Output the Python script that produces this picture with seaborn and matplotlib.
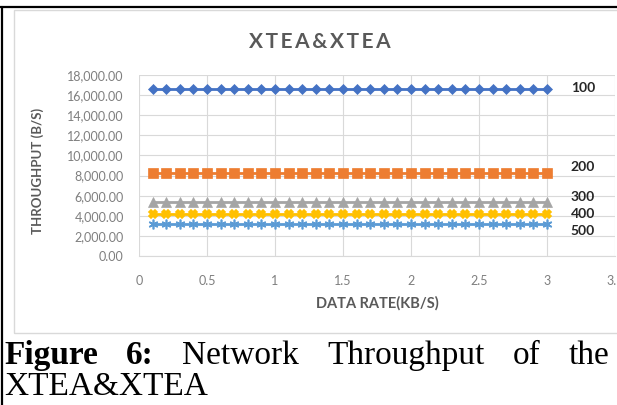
import seaborn as sns
import matplotlib
matplotlib.use("Agg")
import matplotlib.pyplot as plt
import pandas as pd
from matplotlib.lines import Line2D
from matplotlib.patches import Rectangle

# data rate (KB/s)
data_rate = [0.1, 0.2, 0.3, 0.4, 0.5, 0.6, 0.7, 0.8, 0.9, 1.0,
             1.1, 1.2, 1.3, 1.4, 1.5, 1.6, 1.7, 1.8, 1.9, 2.0,
             2.1, 2.2, 2.3, 2.4, 2.5, 2.6, 2.7, 2.8, 2.9, 3.0]

# throughput (B/s) per series
tp_100 = [16600, 16600, 16600, 16600, 16600, 16600, 16600, 16600, 16600, 16600,
          16600, 16600, 16600, 16600, 16600, 16600, 16600, 16600, 16600, 16600,
          16600, 16600, 16600, 16600, 16600, 16600, 16600, 16600, 16600, 16600]
tp_200 = [8300, 8300, 8300, 8300, 8300, 8300, 8300, 8300, 8300, 8300,
          8300, 8300, 8300, 8300, 8300, 8300, 8300, 8300, 8300, 8300,
          8300, 8300, 8300, 8300, 8300, 8300, 8300, 8300, 8300, 8300]
tp_300 = [5350, 5350, 5350, 5350, 5350, 5350, 5350, 5350, 5350, 5350,
          5350, 5350, 5350, 5350, 5350, 5350, 5350, 5350, 5350, 5350,
          5350, 5350, 5350, 5350, 5350, 5350, 5350, 5350, 5350, 5350]
tp_400 = [4200, 4200, 4200, 4200, 4200, 4200, 4200, 4200, 4200, 4200,
          4200, 4200, 4200, 4200, 4200, 4200, 4200, 4200, 4200, 4200,
          4200, 4200, 4200, 4200, 4200, 4200, 4200, 4200, 4200, 4200]
tp_500 = [3200, 3200, 3200, 3200, 3200, 3200, 3200, 3200, 3200, 3200,
          3200, 3200, 3200, 3200, 3200, 3200, 3200, 3200, 3200, 3200,
          3200, 3200, 3200, 3200, 3200, 3200, 3200, 3200, 3200, 3200]

series_names = ["100", "200", "300", "400", "500"]
series_values = [tp_100, tp_200, tp_300, tp_400, tp_500]

rows = []
for name, vals in zip(series_names, series_values):
    for x, y in zip(data_rate, vals):
        rows.append([name, x, y])
df = pd.DataFrame(rows, columns=["series", "rate", "throughput"])

colors = {"100": "#4472C4", "200": "#ED7D31", "300": "#A5A5A5",
          "400": "#FFC000", "500": "#5B9BD5"}
markers = {"100": "D", "200": "s", "300": "^", "400": "X", "500": (6, 2, 0)}
msizes = {"100": 5.5, "200": 7, "300": 7.5, "400": 6, "500": 7}
# label offsets (points) from last point of each series
label_dy = {"100": 1, "200": 4, "300": 4, "400": 0, "500": -5}

sns.set_style("white")
plt.rcParams["font.family"] = ["Lato", "DejaVu Sans"]

fig = plt.figure(figsize=(6.17, 4.05), dpi=100)
ax = fig.add_axes([139 / 617, 1 - 256 / 405, 476 / 617, 181 / 405])

for name in series_names:
    sub = df[df["series"] == name]
    sns.lineplot(data=sub, x="rate", y="throughput", ax=ax, color=colors[name],
                 marker=markers[name], markersize=msizes[name], lw=2,
                 markeredgewidth=1.2 if name in ("400", "500") else 0.5,
                 markeredgecolor=colors[name], legend=False)
    ax.annotate(name, (sub["rate"].iloc[-1], sub["throughput"].iloc[-1]),
                xytext=(17, label_dy[name]), textcoords="offset points",
                ha="left", va="center", fontsize=10, fontweight="bold",
                color="#262626", annotation_clip=False)

ax.set_xlim(0, 3.5)
ax.set_ylim(0, 18000)
ax.set_xticks([0, 0.5, 1, 1.5, 2, 2.5, 3, 3.5])
ax.set_xticklabels(["0", "0.5", "1", "1.5", "2", "2.5", "3", "3.5"])
ax.set_yticks(range(0, 18001, 2000))
ax.set_yticklabels([f"{v:,.2f}" for v in range(0, 18001, 2000)])
ax.grid(True, color="#D9D9D9", lw=0.8)
for s in ["top", "right", "left"]:
    ax.spines[s].set_visible(False)
ax.spines["bottom"].set_color("#D9D9D9")
ax.tick_params(axis="both", length=0, labelsize=9, labelcolor="#7F7F7F")
ax.tick_params(axis="x", pad=14)
ax.tick_params(axis="y", pad=11)

ax.set_xlabel("DATA RATE(KB/S)", fontsize=10.5, color="#595959", fontweight="bold")
ax.xaxis.set_label_coords(0.5, (256 - 303) / 181)
ax.xaxis.label.set_va("center")
ax.set_ylabel("THROUGHPUT (B/S)", fontsize=9.5, color="#595959", fontweight="bold")
ax.yaxis.set_label_coords((38 - 139) / 476, 0.47)
ax.yaxis.label.set_va("center")

fig.text(320 / 617, 1 - 42 / 405, "X T E A & X T E A".replace(" ", "\u2009"),
         ha="center", va="center", fontsize=15, fontweight="bold", color="#595959")

# chart area border and document table borders
fig.add_artist(Rectangle((14 / 617, 1 - 333 / 405), 1.0, 323 / 405,
                         transform=fig.transFigure, fill=False,
                         edgecolor="#D9D9D9", lw=1))
fig.add_artist(Line2D([0, 1], [1 - 7 / 405, 1 - 7 / 405], color="black", lw=1.6))
fig.add_artist(Line2D([2 / 617, 2 / 617], [0, 1 - 7 / 405], color="black", lw=1.6))

# caption, first line justified
cap_font = "Liberation Serif"
cap_size = 24
words = [("Figure", "bold"), ("6:", "bold"), ("Network", "normal"),
         ("Throughput", "normal"), ("of", "normal"), ("the", "normal")]
renderer = fig.canvas.get_renderer()
texts = []
for w, wt in words:
    t = fig.text(0, 1 - 364 / 405, w, fontsize=cap_size, fontweight=wt,
                 family=cap_font, color="black", va="baseline")
    texts.append(t)
widths = [t.get_window_extent(renderer).width for t in texts]
x0, x1 = 4, 609
gap = (x1 - x0 - sum(widths)) / (len(words) - 1)
x = x0
for t, w in zip(texts, widths):
    t.set_x(x / 617)
    x += w + gap
fig.text(4 / 617, 1 - 395 / 405, "XTEA&XTEA", fontsize=cap_size,
         family=cap_font, color="black", va="baseline")

fig.savefig("out.png", dpi=100, facecolor="white")
